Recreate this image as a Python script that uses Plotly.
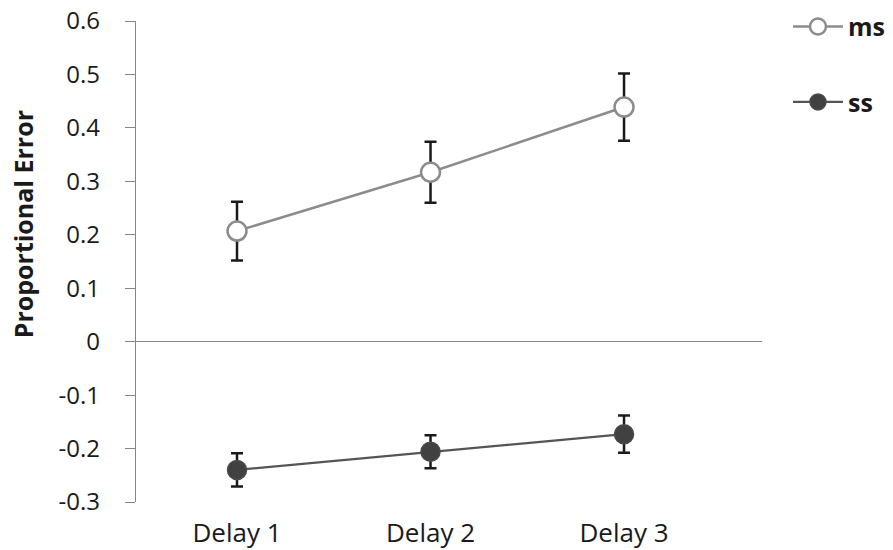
import plotly.graph_objects as go

# Proportional error by delay condition, with error bars
delays = ["Delay 1", "Delay 2", "Delay 3"]
ms_values = [0.207, 0.317, 0.439]
ms_errors = [0.055, 0.057, 0.063]
ss_values = [-0.240, -0.206, -0.173]
ss_errors = [0.031, 0.031, 0.035]
y_ticks = [-0.3, -0.2, -0.1, 0, 0.1, 0.2, 0.3, 0.4, 0.5, 0.6]
y_tick_labels = ["-0.3", "-0.2", "-0.1", "0", "0.1", "0.2", "0.3", "0.4", "0.5", "0.6"]

FONT = "Open Sans"
AXIS_GRAY = "#868686"

fig = go.Figure()

fig.add_trace(go.Scatter(
    x=delays, y=ms_values, name="ms", mode="lines+markers",
    legendgroup="ms",
    line=dict(color="#8c8c8c", width=2.5),
    marker=dict(symbol="circle", size=19, color="white",
                line=dict(color="#8c8c8c", width=2.5)),
    error_y=dict(type="data", array=ms_errors, visible=True,
                 color="#1a1a1a", thickness=2.5, width=6),
))

fig.add_trace(go.Scatter(
    x=delays, y=ss_values, name="ss", mode="lines+markers",
    legendgroup="ss",
    line=dict(color="#555555", width=2.2),
    marker=dict(symbol="circle", size=19, color="#414141",
                line=dict(color="#4a4a4a", width=1.5)),
    error_y=dict(type="data", array=ss_errors, visible=True,
                 color="#1a1a1a", thickness=2.5, width=6),
))

fig.update_layout(
    width=893, height=550,
    margin=dict(l=136, r=131, t=21, b=48, autoexpand=False),
    plot_bgcolor="white", paper_bgcolor="white",
    font=dict(family=FONT, color="#1a1a1a"),
    showlegend=True,
    legend=dict(
        x=1.0415, xanchor="left", y=1.036, yanchor="top",
        traceorder="grouped", tracegroupgap=40, itemwidth=50,
        font=dict(family=FONT, size=25, color="#1a1a1a", weight="bold"),
        bgcolor="rgba(0,0,0,0)",
    ),
    xaxis=dict(
        type="category",
        range=[-0.522, 2.713],
        showgrid=False, showline=False, zeroline=False,
        ticks="", tickfont=dict(family=FONT, size=26, color="#1a1a1a"),
        ticklabelstandoff=13,
    ),
    yaxis=dict(
        range=[-0.3, 0.6],
        tickvals=y_ticks, ticktext=y_tick_labels,
        showgrid=False,
        showline=True, linecolor=AXIS_GRAY, linewidth=1.2,
        ticks="outside", ticklen=10, tickcolor=AXIS_GRAY, tickwidth=1.2,
        zeroline=True, zerolinecolor=AXIS_GRAY, zerolinewidth=1.2,
        tickfont=dict(family=FONT, size=24, color="#1a1a1a"),
        ticklabelstandoff=20,
    ),
    annotations=[dict(
        text="Proportional Error", textangle=-90,
        xref="paper", yref="paper",
        x=-0.18, y=0.578, xanchor="center", yanchor="middle",
        showarrow=False,
        font=dict(family=FONT, size=25, color="#1a1a1a", weight="bold"),
    )],
)

fig.write_html("out.html")
